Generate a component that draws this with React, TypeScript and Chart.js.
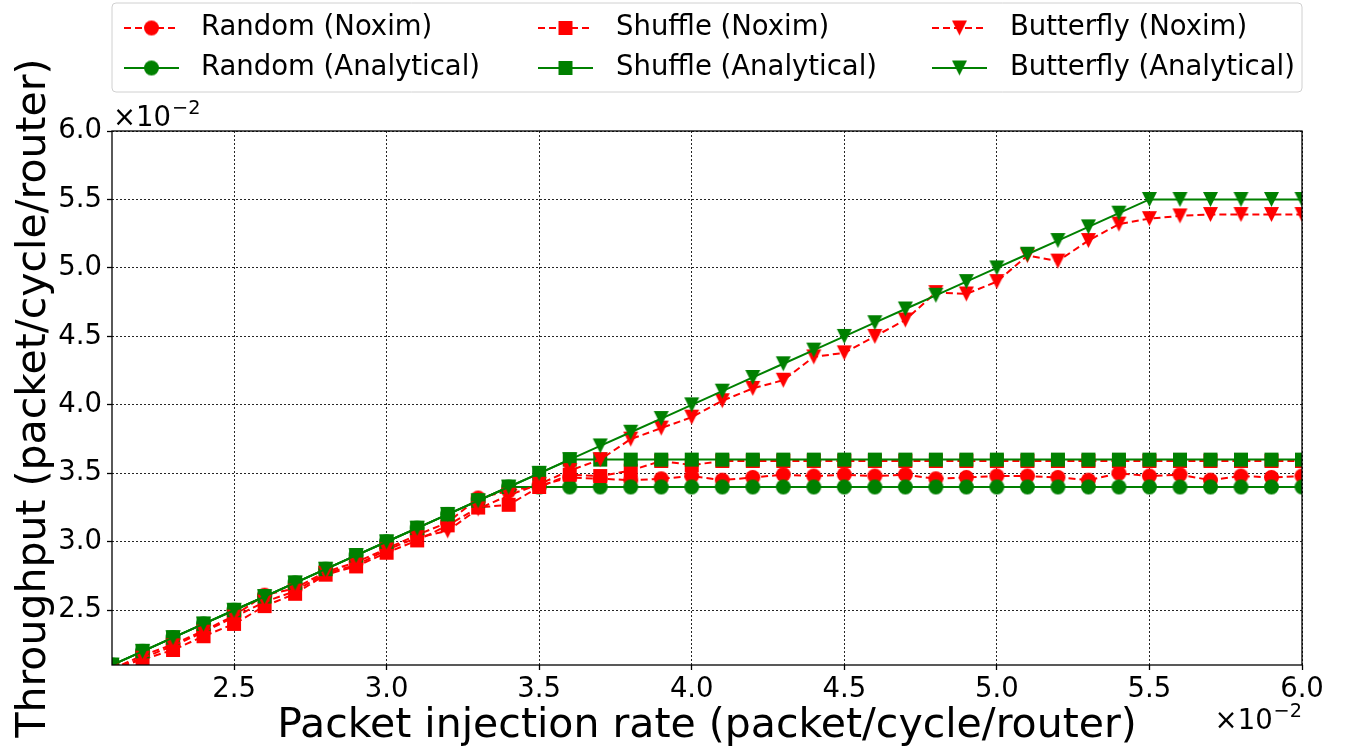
import React, { useEffect, useRef } from "react";
import { Chart, registerables } from "chart.js";

Chart.register(...registerables);

// ---------------- data ----------------
const INJECTION_RATE = [
  2.1, 2.2, 2.3, 2.4, 2.5, 2.6, 2.7, 2.8, 2.9, 3.0,
  3.1, 3.2, 3.3, 3.4, 3.5, 3.6, 3.7, 3.8, 3.9, 4.0,
  4.1, 4.2, 4.3, 4.4, 4.5, 4.6, 4.7, 4.8, 4.9, 5.0,
  5.1, 5.2, 5.3, 5.4, 5.5, 5.6, 5.7, 5.8, 5.9, 6.0,
];

const RANDOM_NOXIM = [
  2.07, 2.17, 2.25, 2.35, 2.46, 2.61, 2.66, 2.78, 2.85, 2.95,
  3.05, 3.14, 3.32, 3.37, 3.41, 3.47, 3.46, 3.45, 3.46, 3.48,
  3.45, 3.47, 3.49, 3.48, 3.49, 3.48, 3.49, 3.46, 3.47, 3.48,
  3.48, 3.47, 3.45, 3.50, 3.48, 3.49, 3.45, 3.48, 3.47, 3.48,
];
const SHUFFLE_NOXIM = [
  2.07, 2.14, 2.21, 2.31, 2.40, 2.53, 2.62, 2.76, 2.82, 2.92,
  3.01, 3.12, 3.25, 3.27, 3.40, 3.49, 3.48, 3.52, 3.59, 3.56,
  3.59, 3.59, 3.59, 3.59, 3.59, 3.59, 3.59, 3.59, 3.59, 3.59,
  3.59, 3.59, 3.59, 3.59, 3.59, 3.59, 3.59, 3.59, 3.59, 3.59,
];
const BUTTERFLY_NOXIM = [
  2.07, 2.15, 2.24, 2.34, 2.45, 2.56, 2.64, 2.77, 2.83, 2.94,
  3.03, 3.08, 3.24, 3.34, 3.42, 3.52, 3.60, 3.75, 3.83, 3.91,
  4.03, 4.12, 4.18, 4.35, 4.38, 4.50, 4.62, 4.82, 4.81, 4.90,
  5.09, 5.05, 5.20, 5.32, 5.36, 5.38, 5.39, 5.39, 5.39, 5.39,
];
const RANDOM_ANALYTICAL = [
  2.1, 2.2, 2.3, 2.4, 2.5, 2.6, 2.7, 2.8, 2.9, 3.0,
  3.1, 3.2, 3.3, 3.4, 3.4, 3.4, 3.4, 3.4, 3.4, 3.4,
  3.4, 3.4, 3.4, 3.4, 3.4, 3.4, 3.4, 3.4, 3.4, 3.4,
  3.4, 3.4, 3.4, 3.4, 3.4, 3.4, 3.4, 3.4, 3.4, 3.4,
];
const SHUFFLE_ANALYTICAL = [
  2.1, 2.2, 2.3, 2.4, 2.5, 2.6, 2.7, 2.8, 2.9, 3.0,
  3.1, 3.2, 3.3, 3.4, 3.5, 3.6, 3.6, 3.6, 3.6, 3.6,
  3.6, 3.6, 3.6, 3.6, 3.6, 3.6, 3.6, 3.6, 3.6, 3.6,
  3.6, 3.6, 3.6, 3.6, 3.6, 3.6, 3.6, 3.6, 3.6, 3.6,
];
const BUTTERFLY_ANALYTICAL = [
  2.1, 2.2, 2.3, 2.4, 2.5, 2.6, 2.7, 2.8, 2.9, 3.0,
  3.1, 3.2, 3.3, 3.4, 3.5, 3.6, 3.7, 3.8, 3.9, 4.0,
  4.1, 4.2, 4.3, 4.4, 4.5, 4.6, 4.7, 4.8, 4.9, 5.0,
  5.1, 5.2, 5.3, 5.4, 5.5, 5.5, 5.5, 5.5, 5.5, 5.5,
];

const X_TICKS = [2.5, 3.0, 3.5, 4.0, 4.5, 5.0, 5.5, 6.0];
const Y_TICKS = [2.5, 3.0, 3.5, 4.0, 4.5, 5.0, 5.5, 6.0];

const SERIES_LABELS = [
  "Random (Noxim)",
  "Random (Analytical)",
  "Shuffle (Noxim)",
  "Shuffle (Analytical)",
  "Butterfly (Noxim)",
  "Butterfly (Analytical)",
];
const X_TITLE = "Packet injection rate (packet/cycle/router)";
const Y_TITLE = "Throughput (packet/cycle/router)";

// ---------------- styles ----------------
const RED = "#ff0000";
const GREEN = "#008000";
const FONT = "DejaVu Sans";
const SMALL = 27.5;
const BIG = 41;

function makeMarker(shape: string, color: string, size: number): HTMLCanvasElement {
  const pad = 1;
  const c = document.createElement("canvas");
  const dim = Math.ceil(size + pad * 2);
  c.width = dim;
  c.height = dim;
  const g = c.getContext("2d")!;
  g.fillStyle = color;
  const o = (dim - size) / 2;
  g.beginPath();
  if (shape === "circle") {
    g.arc(dim / 2, dim / 2, size / 2, 0, Math.PI * 2);
  } else if (shape === "square") {
    g.rect(o, o, size, size);
  } else {
    g.moveTo(o, o);
    g.lineTo(o + size, o);
    g.lineTo(dim / 2, o + size);
    g.closePath();
  }
  g.fill();
  return c;
}

export default function App() {
  const ref = useRef<HTMLCanvasElement>(null);

  useEffect(() => {
    const markers = {
      circleR: makeMarker("circle", RED, 15),
      circleG: makeMarker("circle", GREEN, 15),
      squareR: makeMarker("square", RED, 14),
      squareG: makeMarker("square", GREEN, 14),
      triR: makeMarker("tri", RED, 15),
      triG: makeMarker("tri", GREEN, 15),
    };

    const seriesDefs = [
      { label: SERIES_LABELS[0], data: RANDOM_NOXIM, color: RED, dashed: true, marker: markers.circleR },
      { label: SERIES_LABELS[1], data: RANDOM_ANALYTICAL, color: GREEN, dashed: false, marker: markers.circleG },
      { label: SERIES_LABELS[2], data: SHUFFLE_NOXIM, color: RED, dashed: true, marker: markers.squareR },
      { label: SERIES_LABELS[3], data: SHUFFLE_ANALYTICAL, color: GREEN, dashed: false, marker: markers.squareG },
      { label: SERIES_LABELS[4], data: BUTTERFLY_NOXIM, color: RED, dashed: true, marker: markers.triR },
      { label: SERIES_LABELS[5], data: BUTTERFLY_ANALYTICAL, color: GREEN, dashed: false, marker: markers.triG },
    ];

    const datasets = seriesDefs.map((s, i) => ({
      label: s.label,
      data: INJECTION_RATE.map((x, j) => ({ x, y: s.data[j] })),
      borderColor: s.color,
      backgroundColor: s.color,
      borderWidth: 2,
      borderDash: s.dashed ? [7, 4] : [],
      pointStyle: s.marker,
      pointRadius: 7,
      pointHoverRadius: 7,
      tension: 0,
      clip: 0,
      order: seriesDefs.length - i,
    }));

    const overlay = {
      id: "overlay",
      afterDraw(chart: any) {
        const { ctx } = chart;
        const { left, top, right, bottom } = chart.chartArea;
        ctx.save();
        // frame
        ctx.strokeStyle = "#000";
        ctx.lineWidth = 1.3;
        ctx.setLineDash([]);
        ctx.strokeRect(left, top, right - left, bottom - top);

        ctx.fillStyle = "#000";
        // x title
        ctx.font = `${BIG}px "${FONT}"`;
        ctx.textAlign = "center";
        ctx.textBaseline = "alphabetic";
        ctx.fillText(X_TITLE, (left + right) / 2, 737);
        // y title
        ctx.save();
        ctx.translate(45, (top + bottom) / 2);
        ctx.rotate(-Math.PI / 2);
        ctx.fillText(Y_TITLE, 0, 0);
        ctx.restore();

        // offset texts
        const supSize = SMALL * 0.7;
        const drawOffset = (x: number, y: number, alignRight: boolean) => {
          ctx.font = `${SMALL}px "${FONT}"`;
          const main = "×10";
          const w1 = ctx.measureText(main).width;
          ctx.font = `${supSize}px "${FONT}"`;
          const sup = "−2";
          const w2 = ctx.measureText(sup).width;
          const x0 = alignRight ? x - (w1 + w2 + 1) : x;
          ctx.textAlign = "left";
          ctx.font = `${SMALL}px "${FONT}"`;
          ctx.fillText(main, x0, y);
          ctx.font = `${supSize}px "${FONT}"`;
          ctx.fillText(sup, x0 + w1 + 1, y - 12);
        };
        drawOffset(left + 1, top - 5, false);
        drawOffset(right, 729, true);

        // legend
        const lx = left, ly = 3, lw = right - left, lh = 89;
        ctx.beginPath();
        const r = 4;
        ctx.moveTo(lx + r, ly);
        ctx.arcTo(lx + lw, ly, lx + lw, ly + lh, r);
        ctx.arcTo(lx + lw, ly + lh, lx, ly + lh, r);
        ctx.arcTo(lx, ly + lh, lx, ly, r);
        ctx.arcTo(lx, ly, lx + lw, ly, r);
        ctx.closePath();
        ctx.fillStyle = "rgba(255,255,255,0.8)";
        ctx.fill();
        ctx.strokeStyle = "#d0d0d0";
        ctx.lineWidth = 1;
        ctx.stroke();

        const handleX = [124, 538, 932];
        const textX = [201, 616, 1010];
        const rowY = [28, 68];
        seriesDefs.forEach((s, i) => {
          const col = Math.floor(i / 2);
          const row = i % 2;
          const hx = handleX[col];
          const hy = rowY[row];
          ctx.strokeStyle = s.color;
          ctx.lineWidth = 2;
          ctx.setLineDash(s.dashed ? [7, 4] : []);
          ctx.beginPath();
          ctx.moveTo(hx, hy);
          ctx.lineTo(hx + 55, hy);
          ctx.stroke();
          ctx.setLineDash([]);
          const m = s.marker;
          ctx.drawImage(m, hx + 27.5 - m.width / 2, hy - m.height / 2);
          ctx.fillStyle = "#000";
          ctx.font = `${SMALL}px "${FONT}"`;
          ctx.textAlign = "left";
          ctx.textBaseline = "middle";
          ctx.fillText(s.label, textX[col], hy);
        });
        ctx.restore();
      },
    };

    const tickFont = { family: FONT, size: SMALL };
    const gridCfg = {
      color: "rgba(0,0,0,0.85)",
      lineWidth: 1,
      tickLength: 5,
      tickColor: "#000",
      tickWidth: 1.3,
      tickBorderDash: [],
    };

    const chart = new Chart(ref.current!, {
      type: "line",
      data: { datasets: datasets as any },
      options: {
        responsive: false,
        animation: false,
        events: [],
        layout: { padding: { top: 131, right: 46, left: 0, bottom: 0 } },
        plugins: { legend: { display: false }, tooltip: { enabled: false } },
        scales: {
          x: {
            type: "linear",
            min: 2.1,
            max: 6.0,
            afterBuildTicks: (s: any) => {
              s.ticks = X_TICKS.map((v) => ({ value: v }));
            },
            afterFit: (s: any) => {
              s.height = 83;
            },
            ticks: {
              font: tickFont,
              color: "#000",
              padding: 3,
              maxRotation: 0,
              autoSkip: false,
              callback: (v: any) => Number(v).toFixed(1),
            },
            grid: gridCfg as any,
            border: { display: false, dash: [2, 2] },
          },
          y: {
            type: "linear",
            min: 2.1,
            max: 6.0,
            afterBuildTicks: (s: any) => {
              s.ticks = Y_TICKS.map((v) => ({ value: v }));
            },
            afterFit: (s: any) => {
              s.width = 112;
            },
            ticks: {
              font: tickFont,
              color: "#000",
              padding: 5,
              autoSkip: false,
              callback: (v: any) => Number(v).toFixed(1),
            },
            grid: gridCfg as any,
            border: { display: false, dash: [2, 2] },
          },
        },
      },
      plugins: [overlay],
    });

    return () => chart.destroy();
  }, []);

  return (
    <div style={{ position: "fixed", left: 0, top: 0, width: 1348, height: 748, background: "#fff" }}>
      <canvas ref={ref} width={1348} height={748} style={{ display: "block" }} />
    </div>
  );
}
